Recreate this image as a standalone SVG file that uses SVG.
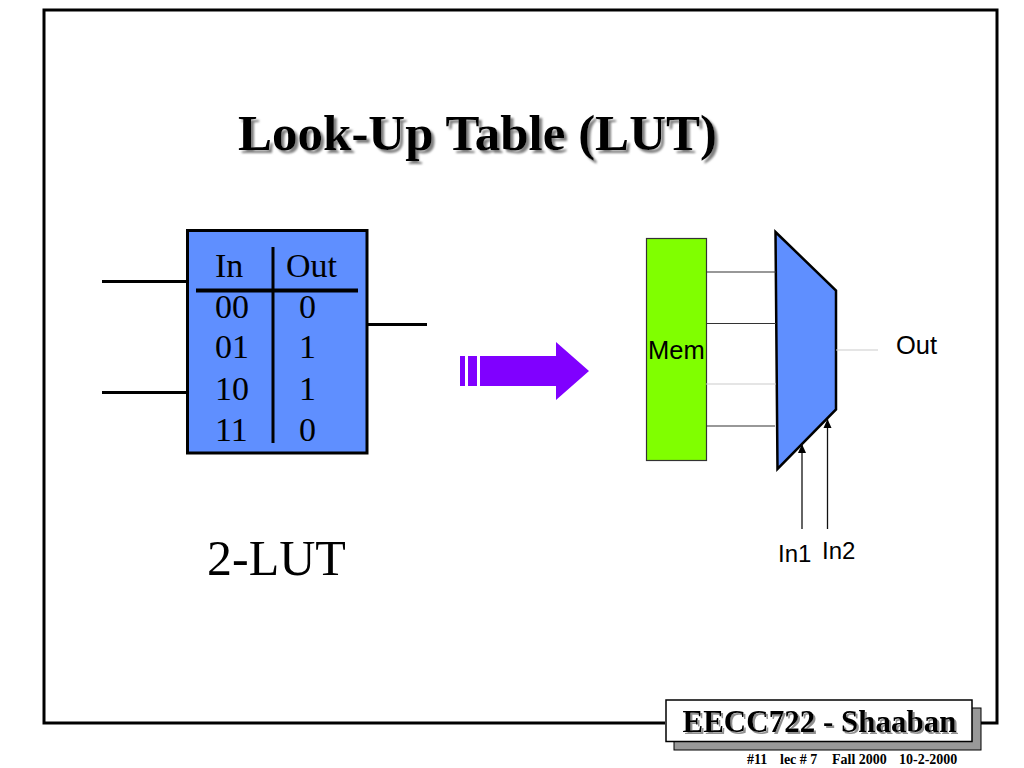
<svg xmlns="http://www.w3.org/2000/svg" width="1024" height="768" viewBox="0 0 1024 768">
<defs>
<marker id="ah" markerUnits="userSpaceOnUse" markerWidth="8" markerHeight="10" refX="4" refY="0" viewBox="0 0 8 10" orient="0" overflow="visible"><path d="M4 0L8 9H0Z" fill="#000"/></marker>
<filter id="sh" x="-5%" y="-20%" width="110%" height="140%"><feDropShadow dx="3" dy="3" stdDeviation="0.900" flood-color="#808080"/></filter>
<filter id="sh2" x="-5%" y="-20%" width="110%" height="140%"><feDropShadow dx="2" dy="2" stdDeviation="0.700" flood-color="#909090"/></filter>
</defs>
<style>
.s{font-family:"Liberation Serif","Times New Roman",serif;fill:#000}
.a{font-family:"Liberation Sans",Arial,sans-serif;fill:#000}
.t{font-size:34px}
.w{fill:none;stroke:#000;stroke-width:3}
.i{stroke:#111;stroke-width:1.300;fill:none;marker-end:url(#ah)}
</style>
<rect width="1024" height="768" fill="#fff"/>
<g id="frame"><path d="M665 723H44V10H997V723H974" fill="none" stroke="#000" stroke-width="3"/></g>
<g id="title"><text class="s" x="238" y="150" font-size="51" font-weight="bold" filter="url(#sh)">Look-Up Table (LUT)</text></g>
<g id="lut">
<rect x="187.500" y="230.500" width="179.500" height="222.500" fill="#5f8fff" stroke="#000" stroke-width="3"/>
<path d="M273 247V443" stroke="#000" stroke-width="3"/>
<path d="M196 290.500H358" stroke="#000" stroke-width="4"/>
<g class="s t">
<text x="215" y="277">In</text><text x="286" y="277">Out</text>
<text x="215" y="318">00</text><text x="299" y="318">0</text>
<text x="215" y="358">01</text><text x="299" y="358">1</text>
<text x="215" y="400">10</text><text x="299" y="400">1</text>
<text x="215" y="441">11</text><text x="299" y="441">0</text>
</g>
</g>
<g id="lut-label"><text class="s" x="207" y="575" font-size="50">2-LUT</text></g>
<g id="big-arrow" fill="#8000ff">
<path d="M480 356H556V342L589 371L556 400V386H480Z"/>
<rect x="460" y="356" width="5" height="30"/>
<rect x="468" y="356" width="9" height="30"/>
</g>
<g id="mem">
<rect x="646.500" y="238.500" width="60" height="222" fill="#80ff00" stroke="#333" stroke-width="1.200"/>
<text class="a" x="648" y="359" font-size="25.500">Mem</text>
</g>
<g id="mux">
<path d="M775.500 232L836 290.500V409.500L777.500 469Z" fill="#5f8fff" stroke="#000" stroke-width="2.500" stroke-linejoin="miter"/>
</g>
<g id="connectors">
<path class="w" d="M102 281.500H187M102 392.500H187M367 324.500H427"/>
<path d="M706 272H776M706 323.500H776" stroke="#333" stroke-width="1.200" fill="none"/>
<path d="M706 384H776M836 350H878" stroke="#ccc" stroke-width="1.200" fill="none"/>
<path d="M706 426H775" stroke="#333" stroke-width="1.200" fill="none"/>
<path class="i" d="M802 529V444"/>
<path class="i" d="M827.500 529V419"/>
</g>
<g id="labels" class="a" font-size="24">
<text x="896" y="354" font-size="25.500">Out</text>
<text x="778" y="562">In1</text>
<text x="822" y="559">In2</text>
</g>
<g id="badge">
<rect x="674" y="708" width="307" height="42" fill="#999" stroke="#000" stroke-width="1"/>
<rect x="666" y="700" width="306" height="41.500" fill="#fff" stroke="#000" stroke-width="1.500"/>
<text class="s" x="682.500" y="731.500" font-size="31" font-weight="bold" filter="url(#sh2)">EECC722 - Shaaban</text>
</g>
<g id="footer" class="s" font-size="14" font-weight="bold">
<text x="747" y="764">#11</text>
<text x="780" y="764">lec # 7</text>
<text x="832" y="764">Fall 2000</text>
<text x="899" y="764">10-2-2000</text>
</g>
</svg>
